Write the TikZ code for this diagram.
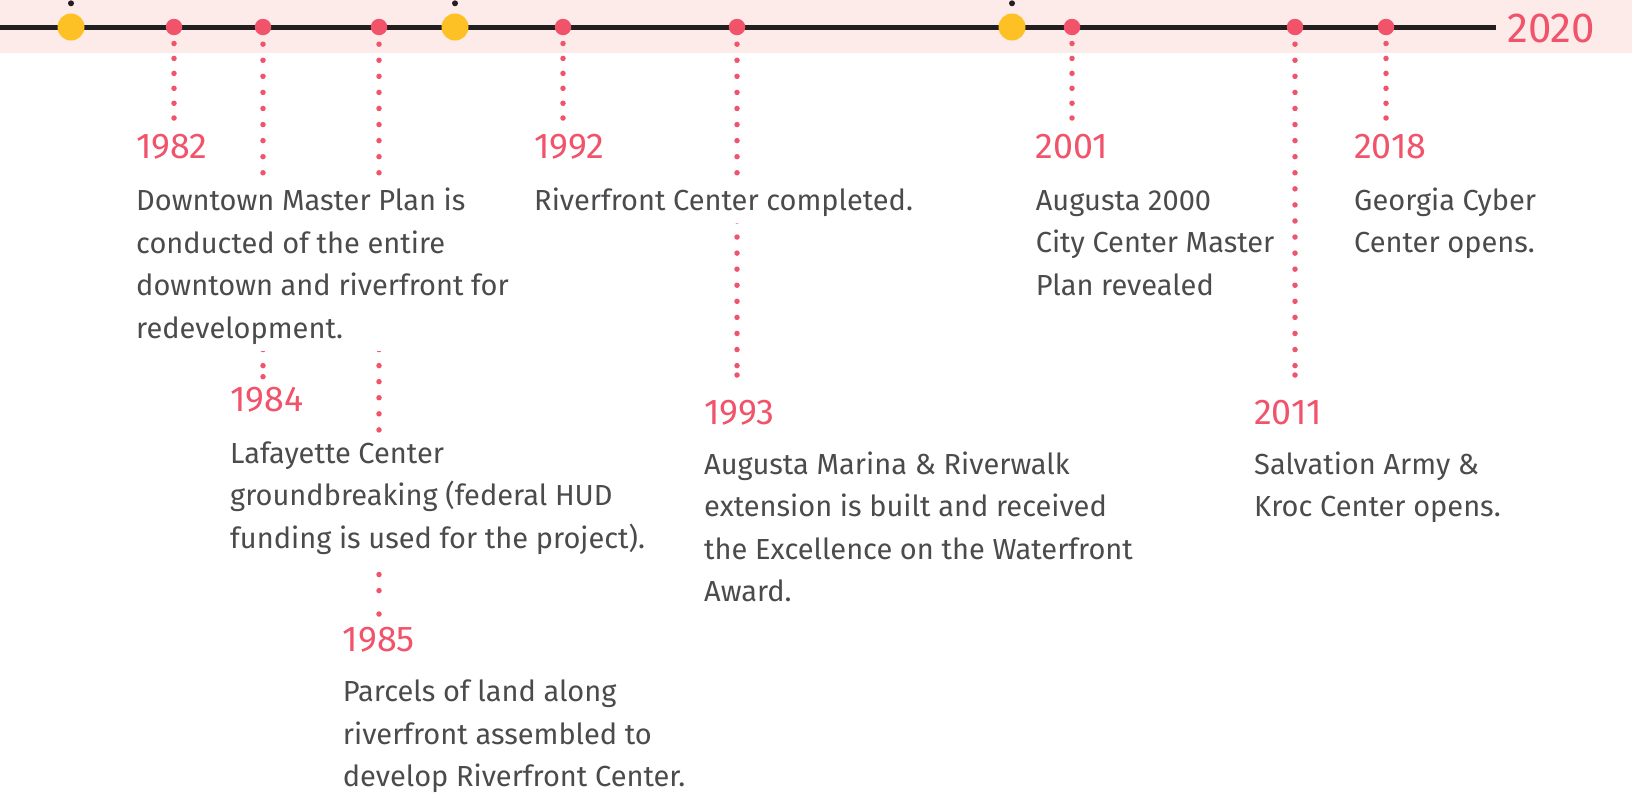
\documentclass[tikz,border=0pt]{standalone}
\usepackage{fontspec}
\setmainfont{Fira Sans}

\definecolor{bandpink}{HTML}{FDEBEA}
\definecolor{axisdark}{HTML}{231F20}
\definecolor{accent}{HTML}{F0536A}
\definecolor{gold}{HTML}{FDC126}
\definecolor{bodygrey}{HTML}{4B4B4D}

\tikzset{
  band/.style={fill=bandpink, draw=none},
  axisline/.style={draw=axisdark, line width=5pt},
  bigdot/.style={circle, fill=gold, minimum size=27pt, inner sep=0pt},
  tickdot/.style={circle, fill=accent, minimum size=16.5pt, inner sep=0pt},
  pindot/.style={circle, fill=axisdark, minimum size=6pt, inner sep=0pt},
  enddot/.style={circle, fill=accent, minimum size=5.5pt, inner sep=0pt},
  leader/.style={draw=accent, line width=5.5pt, line cap=round,
    dash pattern=on 0pt off 16.07pt, shorten <=8.75pt},
  shortleader/.style={draw=accent, line width=5.5pt, line cap=round,
    dash pattern=on 0pt off 14.94pt, shorten <=8.05pt},
  year/.style={anchor=base west, inner sep=0pt, text=accent,
    font=\fontsize{35.8}{42}\selectfont},
  endyear/.style={anchor=base west, inner sep=0pt, text=accent,
    font=\fontsize{42}{48}\selectfont},
  note/.style={anchor=base west, inner sep=0pt, fill=white, text=bodygrey,
    font=\fontsize{29}{42.5}\selectfont},
}

\newcommand{\lines}[1]{\begin{tabular}[t]{@{}l@{}}#1\end{tabular}}

\begin{document}
\begin{tikzpicture}[x=1pt, y=-1pt]
  \useasboundingbox (0,0) rectangle (1632,793);

  % header band and axis
  \fill[band] (0,0) rectangle (1632,52.5);
  \coordinate (axisL) at (0,27);
  \coordinate (axisR) at (1496,27);
  \draw[axisline] (axisL) -- (axisR);
  \node[endyear] (y20) at (1507,42.3) {2020};

  % decade markers
  \foreach \name/\x in {da/71, db/455, dc/1012} {
    \node[bigdot] (\name) at (\x,27) {};
    \node[pindot] (\name p) at (\x,3.3) {};
  }

  % event ticks on the axis
  \foreach \name/\x in {t82/174, t84/263, t85/379, t92/563, t93/737,
                        t01/1072, t11/1295, t18/1386} {
    \node[tickdot] (\name) at (\x,27) {};
  }

  % ends of the leaders
  \node[enddot] (e82) at (174,118) {};
  \node[enddot] (e84) at (263,376.7) {};
  \node[enddot] (e85) at (379,614) {};
  \node[enddot] (e92) at (563,118) {};
  \node[enddot] (e93) at (737,375) {};
  \node[enddot] (e01) at (1072,118) {};
  \node[enddot] (e11) at (1295,375) {};
  \node[enddot] (e18) at (1386,118) {};

  % dotted leaders
  \draw[shortleader] (t82) -- (e82);
  \draw[leader] (t84) -- (e84);
  \draw[leader, shorten >=10pt] (t85) -- (e85);
  \draw[shortleader] (t92) -- (e92);
  \draw[leader] (t93) -- (e93);
  \draw[shortleader] (t01) -- (e01);
  \draw[leader] (t11) -- (e11);
  \draw[shortleader] (t18) -- (e18);

  % years
  \node[year] (y82) at (136,158.3) {1982};
  \node[year] (y84) at (230,411.7) {1984};
  \node[year] (y85) at (342.7,651) {1985};
  \node[year] (y92) at (534,158.3) {1992};
  \node[year] (y93) at (704,424) {1993};
  \node[year] (y01) at (1035.6,158.3) {2001};
  \node[year] (y11) at (1254,424) {2011};
  \node[year] (y18) at (1354,158.3) {2018};

  % descriptions
  \node[note] (n82) at (136,210.7) {\lines{Downtown Master Plan is\\
    conducted of the entire\\ downtown and riverfront for\\ redevelopment.}};
  \node[note] (n84) at (230,463.3) {\lines{Lafayette Center\\
    groundbreaking (federal HUD\\ funding is used for the project).}};
  \node[note] (n85) at (342.7,701.7) {\lines{Parcels of land along\\
    riverfront assembled to\\ develop Riverfront Center.}};
  \node[note] (n92) at (534,210) {\lines{Riverfront Center completed.}};
  \node[note] (n93) at (704,474) {\lines{Augusta Marina \& Riverwalk\\
    extension is built and received\\ the Excellence on the Waterfront\\ Award.}};
  \node[note] (n01) at (1035.6,210) {\lines{Augusta 2000\\
    City Center Master\\ Plan revealed}};
  \node[note] (n11) at (1254,474) {\lines{Salvation Army \&\\ Kroc Center opens.}};
  \node[note] (n18) at (1354,210) {\lines{Georgia Cyber\\ Center opens.}};
\end{tikzpicture}
\end{document}
